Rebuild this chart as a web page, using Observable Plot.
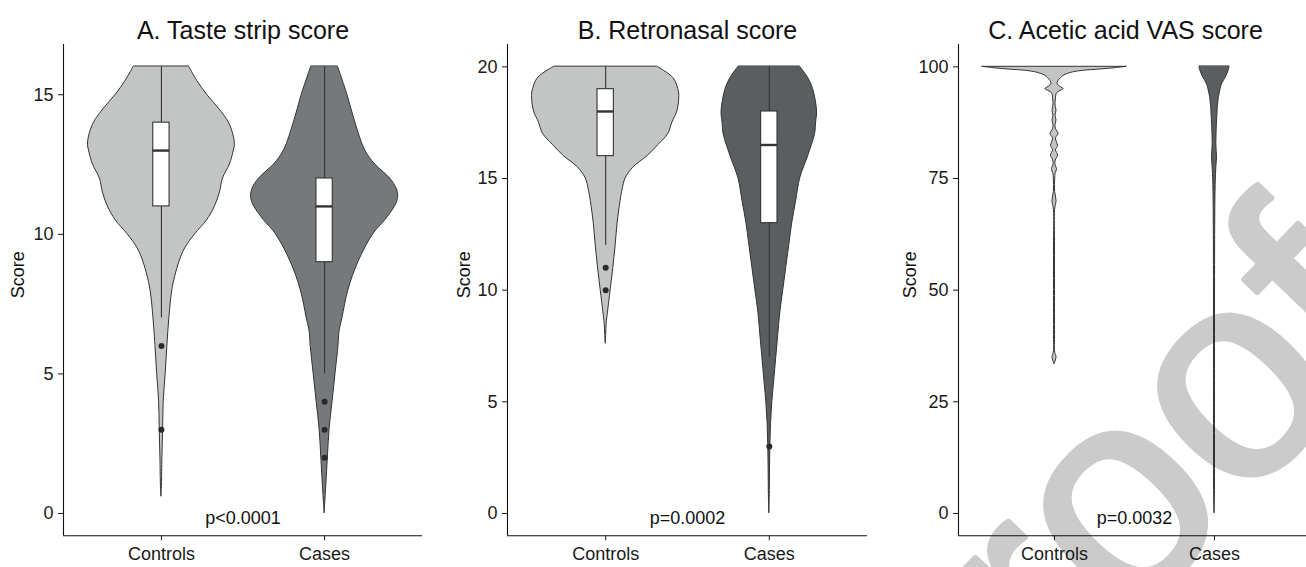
<!DOCTYPE html>
<html><head><meta charset="utf-8">
<script src="https://cdn.jsdelivr.net/npm/d3@7"></script>
<script src="https://cdn.jsdelivr.net/npm/@observablehq/plot@0.6"></script>
<style>
body{margin:0;background:#fff}
#wrap{position:relative;width:1306px;height:567px;overflow:hidden;font-family:"Liberation Sans",Arial,sans-serif}
.panel{position:absolute;top:0}
#wm{position:absolute;left:0;top:0}
</style></head>
<body>
<div id="wrap">
<svg id="wm" width="1306" height="567"><text transform="translate(920,839) rotate(-46)" font-family="Liberation Sans, Arial, sans-serif" font-size="295" fill="#cbcbcb" stroke="#cbcbcb" stroke-width="5" stroke-linejoin="round">Proof</text></svg>
</div>
<script>
const groups = ["Controls", "Cases"];

// A. Taste strip score — violin profiles (relative density)
const tasteLevelsControls = [16,15.5,15,14.5,14,13.5,13.2,13,12.5,12,11.5,11,10.5,10,9.5,9,8.5,8,7,6,5,4,3,2,1,0.6];
const tasteDensityControls = [28,36,46,58,68,73,74,73,69,62,59,54,46,34,24,18,14,11,8,6,4.3,2.3,1.7,1,0.5,0];
const tasteLevelsCases = [16,15,14,13,12.5,12,11.6,11.3,11,10.5,10,9,8,7,6.5,6,5,4,3,2,1,0];
const tasteDensityCases = [13.5,23,31,41,51,66,73,74,71,61,49,34,24,18,15,14,11,8,5,3.3,1.7,0];
const tasteQ1 = [11, 9], tasteMedian = [13, 11], tasteQ3 = [14, 12], tasteLower = [7, 5], tasteUpper = [16, 16];
const tasteOutliers = [[6, 3], [4, 3, 2]];
const tasteTicks = [0, 5, 10, 15];

// B. Retronasal score
const retroLevelsControls = [20,19.5,19,18.7,18,17.5,17,16.5,16,15.5,15,14.5,14,13,12,11,10,9,8.5,8,7.6];
const retroDensityControls = [52,68,73,74,72,67,63,53,42,28,20,17,15,12,10,7.7,5,2.3,1,0.5,0];
const retroLevelsCases = [20,19.5,19,18,17.5,17,16,15,14,13,12,11,10,9,8,7,6,5,4,3,2,1,0];
const retroDensityCases = [31,39,44,48,47,46,39,31,27,23,20,17,14,11,9,7,5,3,1.7,1,0.7,0.5,0];
const retroQ1 = [16, 13], retroMedian = [18, 16.5], retroQ3 = [19, 18], retroLower = [12, 7], retroUpper = [20, 20];
const retroOutliers = [[11, 10], [3]];
const retroTicks = [0, 5, 10, 15, 20];

// C. Acetic acid VAS score
const vasLevelsControls = [100,99.7,99.4,99.1,98.8,98.4,98,97.5,97,96.5,96.1,95.5,95,94.5,94,93,92,91,90.2,89,88,87,86,85,84,83,82.3,81.3,80.1,79,78,77.1,76,75,72,70,68,60,50,40,36,35,34,33.4];
const vasDensityControls = [71,60,45,28,19,13,9,6.5,4.5,3.2,3,6,9,5,2.2,1.5,1,1.2,2,1,2,1,1.5,4,1.5,2.5,3.5,1.5,3.5,1.2,1,2.5,1,0.7,0.6,2,0.6,0.5,0.5,0.5,0.7,2,1,0];
const vasLevelsCases = [100,99.5,99,98,97,96,95,94,93,92,91,89,87,85,83,81,80,79,77,75,72,68,60,40,20,5,0];
const vasDensityCases = [14.8,14.5,13.7,12,9.5,7.2,6,5,4.2,3.7,3.3,2.8,2.3,2,1.8,2.2,2.5,2.3,1.7,1.3,1,0.8,0.6,0.5,0.5,0.4,0];
const vasTicks = [0, 25, 50, 75, 100];

const outline = "#333333";
const font = "Liberation Sans, Arial, sans-serif";

const panels = [
  {left: 0, width: 440, marginLeft: 63, marginRight: 18, yDomain: [-0.8, 16.8], ticks: tasteTicks,
   title: "A. Taste strip score", titleDx: 0, p: "p<0.0001", scoreDx: -45,
   violins: [[tasteLevelsControls, tasteDensityControls, "#c3c5c4"], [tasteLevelsCases, tasteDensityCases, "#75797c"]],
   box: {q1: tasteQ1, med: tasteMedian, q3: tasteQ3, lo: tasteLower, hi: tasteUpper}, outliers: tasteOutliers},
  {left: 440, width: 440, marginLeft: 67, marginRight: 13, yDomain: [-1, 21], ticks: retroTicks,
   title: "B. Retronasal score", titleDx: 0, p: "p=0.0002", scoreDx: -43.5,
   violins: [[retroLevelsControls, retroDensityControls, "#c3c5c4"], [retroLevelsCases, retroDensityCases, "#5a5e60"]],
   box: {q1: retroQ1, med: retroMedian, q3: retroQ3, lo: retroLower, hi: retroUpper}, outliers: retroOutliers},
  {left: 880, width: 430, marginLeft: 78, marginRight: 0, yDomain: [-5, 105], ticks: vasTicks,
   title: "C. Acetic acid VAS score", titleDx: -9, p: "p=0.0032", scoreDx: -48.5,
   violins: [[vasLevelsControls, vasDensityControls, "#c3c5c4"], [vasLevelsCases, vasDensityCases, "#5a5e60"]],
   box: null, outliers: [[], []]}
];

const wrap = document.getElementById("wrap");
for (const P of panels) {
  const maxD = d3.max(P.violins.flatMap(v => v[1]));
  const marks = [];
  P.violins.forEach(([levels, dens, fill], gi) => {
    const c = gi + 1;
    const data = levels.map((v, i) => ({v, x1: c - dens[i] / maxD * 0.45, x2: c + dens[i] / maxD * 0.45}));
    marks.push(Plot.areaX(data, {y: "v", x1: "x1", x2: "x2", fill, stroke: outline, strokeWidth: 1, curve: "catmull-rom"}));
  });
  if (P.box) {
    const b = groups.map((g, i) => ({c: i + 1, q1: P.box.q1[i], med: P.box.med[i], q3: P.box.q3[i], lo: P.box.lo[i], hi: P.box.hi[i]}));
    marks.push(Plot.ruleX(b, {x: "c", y1: "lo", y2: "q1", stroke: outline, strokeWidth: 1.1}));
    marks.push(Plot.ruleX(b, {x: "c", y1: "q3", y2: "hi", stroke: outline, strokeWidth: 1.1}));
    marks.push(Plot.rect(b, {x1: d => d.c - 0.05, x2: d => d.c + 0.05, y1: "q1", y2: "q3", fill: "white", stroke: outline, strokeWidth: 1.1}));
    marks.push(Plot.ruleY(b, {y: "med", x1: d => d.c - 0.05, x2: d => d.c + 0.05, stroke: outline, strokeWidth: 2.4}));
  }
  const pts = P.outliers.flatMap((arr, i) => arr.map(v => ({c: i + 1, v})));
  marks.push(Plot.dot(pts, {x: "c", y: "v", r: 3, fill: "#2a2a2a", stroke: null}));
  // axes
  marks.push(Plot.axisY({ticks: P.ticks, tickSize: 5, tickPadding: 5, label: null, fontSize: 18, fill: "#1a1a1a", stroke: "#1a1a1a"}));
  marks.push(Plot.axisX({ticks: [1, 2], tickFormat: d => groups[d - 1], tickSize: 5, tickPadding: 6, label: null, fontSize: 18, fill: "#1a1a1a", stroke: "#1a1a1a"}));
  marks.push(Plot.ruleX([0.4], {stroke: "#111", strokeWidth: 1.1}));
  marks.push(Plot.ruleY([P.yDomain[0]], {stroke: "#111", strokeWidth: 1.1}));
  // texts
  marks.push(Plot.text([P.p], {x: 1.5, y: 0, text: d => d, lineAnchor: "top", dy: -2, fontSize: 18, fill: "#111"}));
  marks.push(Plot.text([P.title], {frameAnchor: "top", text: d => d, dy: -23, dx: P.titleDx, fontSize: 25, fill: "#111"}));
  marks.push(Plot.text(["Score"], {frameAnchor: "left", text: d => d, rotate: -90, dx: P.scoreDx, dy: 8, fontSize: 18, fill: "#111"}));

  const svg = Plot.plot({
    width: P.width, height: 567,
    marginTop: 44, marginBottom: 31.7, marginLeft: P.marginLeft, marginRight: P.marginRight,
    style: {background: "transparent", fontFamily: font, overflow: "visible"},
    x: {type: "linear", domain: [0.4, 2.6], axis: null},
    y: {domain: P.yDomain, axis: null},
    marks
  });
  const div = document.createElement("div");
  div.className = "panel";
  div.style.left = P.left + "px";
  div.style.width = P.width + "px";
  div.appendChild(svg);
  wrap.appendChild(div);
}
</script>
</body></html>
